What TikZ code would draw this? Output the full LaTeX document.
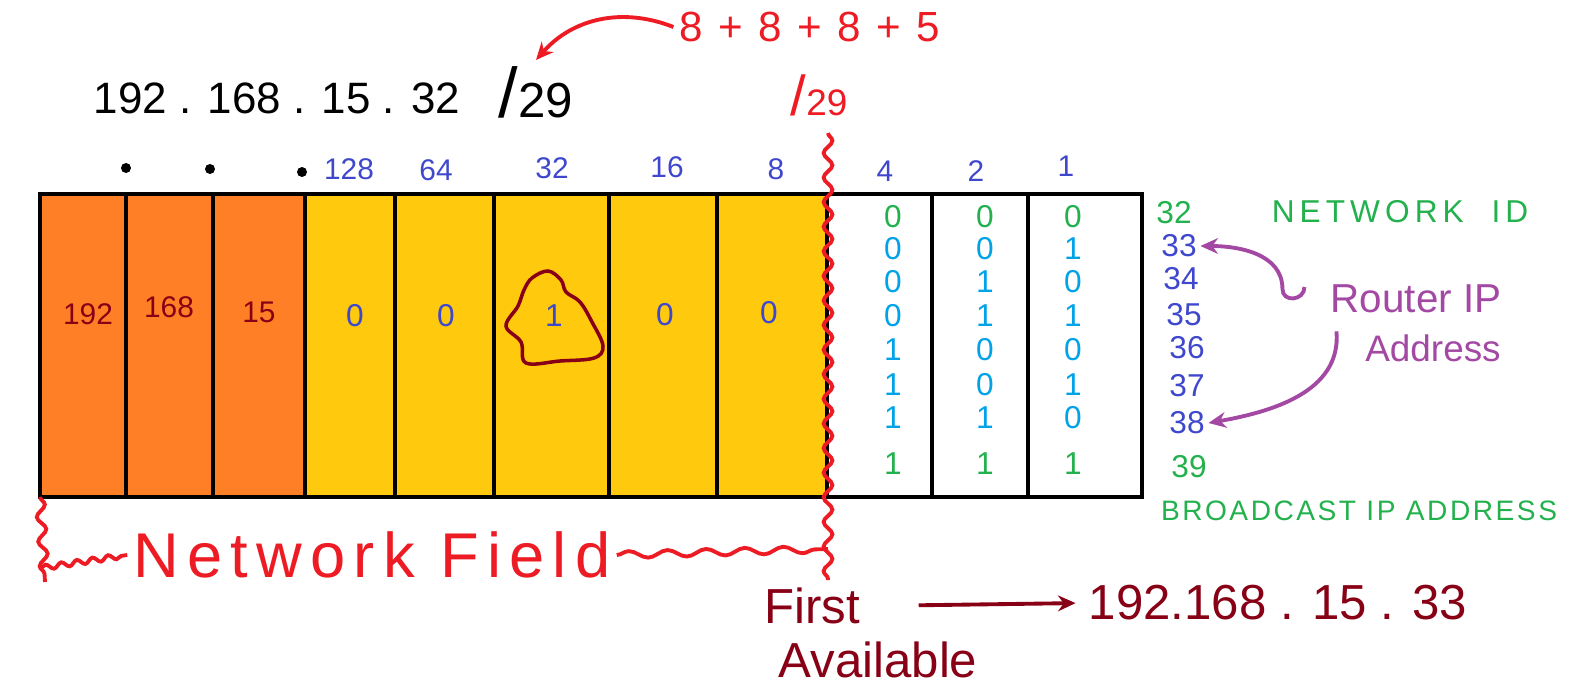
\documentclass[tikz,border=0pt]{standalone}
\usepackage{fontspec}
\setmainfont{Liberation Sans}
\usepackage{xcolor}
\usepackage{tikz}
\usetikzlibrary{arrows.meta,positioning,fit,decorations.pathmorphing}

\definecolor{mspOrange}{HTML}{FF7F27}
\definecolor{mspYellow}{HTML}{FFC90E}
\definecolor{mspRed}{HTML}{ED1C24}
\definecolor{mspMaroon}{HTML}{880015}
\definecolor{mspBlue}{HTML}{3F48CC}
\definecolor{mspCyan}{HTML}{00A2E8}
\definecolor{mspGreen}{HTML}{22B14C}
\definecolor{mspPurple}{HTML}{A349A4}

\newcommand{\fsz}[1]{\fontsize{#1}{#1}\selectfont}
\newcommand{\spaced}[2]{{\addfontfeature{LetterSpace=#1}#2}}

\begin{document}
\begin{tikzpicture}[
    x=0.02cm, y=0.02cm,
    cell/.style={rectangle, draw=black, line width=2.8pt, inner sep=0pt},
    octet/.style={cell, fill=mspOrange},
    netbit/.style={cell, fill=mspYellow},
    hostbit/.style={cell, fill=white},
    weight/.style={text=mspBlue, font=\fsz{17}},
    octval/.style={text=mspMaroon, font=\fsz{17}},
    bitval/.style={text=mspBlue, font=\fsz{18}},
    hbit/.style={text=mspCyan, font=\fsz{18}, inner sep=1pt},
    hbitg/.style={text=mspGreen, font=\fsz{18}, inner sep=1pt},
    hostnum/.style={text=mspBlue, font=\fsz{18}, inner sep=2pt},
    hostnumg/.style={text=mspGreen, font=\fsz{18}, inner sep=2pt},
    redarrow/.style={-{Stealth[length=10pt,width=9pt]}, line width=2.2pt, draw=mspRed},
    purparrow/.style={-{Stealth[length=10pt,width=9pt]}, line width=2.2pt, draw=mspPurple},
    mararrow/.style={-{Stealth[length=10pt,width=9pt]}, line width=2.2pt, draw=mspMaroon},
    wavy/.style={decorate, decoration={snake, amplitude=2.5pt, segment length=14pt}, line width=2.2pt, draw=mspRed}
]
\useasboundingbox (0,0) rectangle (1581,-693);

% 1. Address and prefix
\node[font=\fsz{25}] (ip_addr) at (277,-98) {192 . 168 . 15 . 32};
\node[font=\fsz{28}] (prefix) at (536,-92) {{\fsz{40}/}29};
\node[text=mspRed, font=\fsz{24}] (bit_sum) at (810,-27) {\spaced{9}{8 + 8 + 8 + 5}};
\node[text=mspRed, font=\fsz{21}] (red_prefix) at (819,-95) {{\fsz{32}/}29};

% 2. Octet dots and bit weights
\fill (126,-168) circle (5);
\fill (210,-169) circle (5);
\fill (302,-172) circle (5);
\node[weight] (w128) at (349,-169) {128};
\node[weight] (w64) at (436,-170) {64};
\node[weight] (w32) at (552,-168) {32};
\node[weight] (w16) at (667,-167) {16};
\node[weight] (w8) at (776,-169) {8};
\node[weight] (w4) at (885,-171) {4};
\node[weight] (w2) at (976,-171) {2};
\node[weight] (w1) at (1066,-166) {1};

% 3. Cells
\node[octet, fit={(40,-194) (126,-497)}] (oct_a) {};
\node[octet, fit={(126,-194) (213,-497)}] (oct_b) {};
\node[octet, fit={(213,-194) (305,-497)}] (oct_c) {};
\node[netbit, fit={(305,-194) (395,-497)}] (nb_128) {};
\node[netbit, fit={(395,-194) (494,-497)}] (nb_64) {};
\node[netbit, fit={(494,-194) (609,-497)}] (nb_32) {};
\node[netbit, fit={(609,-194) (717,-497)}] (nb_16) {};
\node[netbit, fit={(717,-194) (827,-497)}] (nb_8) {};
\node[hostbit, fit={(827,-194) (932,-497)}] (hb_4) {};
\node[hostbit, fit={(932,-194) (1028,-497)}] (hb_2) {};
\node[hostbit, fit={(1028,-194) (1142,-497)}] (hb_1) {};

\node[octval] (val_192) at (88,-314) {192};
\node[octval] (val_168) at (169,-307) {168};
\node[octval] (val_15) at (259,-312) {15};
\node[bitval] (bit_128) at (355,-316) {0};
\node[bitval] (bit_64) at (446,-316) {0};
\draw[mspMaroon, line width=2pt] plot[smooth cycle, tension=0.6] coordinates {
    (524,-290) (532,-278) (548,-271) (561,-280) (566,-292) (580,-302)
    (592,-322) (603,-346) (594,-358) (560,-361) (526,-363) (521,-342)
    (506,-326) (518,-306)};
\node[bitval] (bit_32) at (554,-316) {1};
\node[bitval] (bit_16) at (665,-315) {0};
\node[bitval] (bit_8) at (769,-313) {0};

% 4. Host bits
\node[hbitg] (hb1_4) at (893,-217) {0}; \node[hbitg] (hb1_2) at (985,-217) {0}; \node[hbitg] (hb1_1) at (1073,-217) {0};
\node[hbit] (hb2_4) at (893,-249) {0}; \node[hbit] (hb2_2) at (985,-249) {0}; \node[hbit] (hb2_1) at (1073,-249) {1};
\node[hbit] (hb3_4) at (893,-282) {0}; \node[hbit] (hb3_2) at (985,-282) {1}; \node[hbit] (hb3_1) at (1073,-282) {0};
\node[hbit] (hb4_4) at (893,-316) {0}; \node[hbit] (hb4_2) at (985,-316) {1}; \node[hbit] (hb4_1) at (1073,-316) {1};
\node[hbit] (hb5_4) at (893,-350) {1}; \node[hbit] (hb5_2) at (985,-350) {0}; \node[hbit] (hb5_1) at (1073,-350) {0};
\node[hbit] (hb6_4) at (893,-385) {1}; \node[hbit] (hb6_2) at (985,-385) {0}; \node[hbit] (hb6_1) at (1073,-385) {1};
\node[hbit] (hb7_4) at (893,-418) {1}; \node[hbit] (hb7_2) at (985,-418) {1}; \node[hbit] (hb7_1) at (1073,-418) {0};
\node[hbitg] (hb8_4) at (893,-464) {1}; \node[hbitg] (hb8_2) at (985,-464) {1}; \node[hbitg] (hb8_1) at (1073,-464) {1};

% 5. Host numbers and notes
\node[hostnumg] (num_32) at (1174,-213) {32};
\node[hostnum] (num_33) at (1179,-246) {33};
\node[hostnum] (num_34) at (1181,-279) {34};
\node[hostnum] (num_35) at (1184,-315) {35};
\node[hostnum] (num_36) at (1187,-348) {36};
\node[hostnum] (num_37) at (1187,-386) {37};
\node[hostnum] (num_38) at (1187,-423) {38};
\node[hostnumg] (num_39) at (1189,-467) {39};

\node[text=mspGreen, font=\fsz{18}] (net_id) at (1400,-212) {\spaced{16}{NETWORK\ \ ID}};
\node[text=mspPurple, font=\fsz{23}] (router) at (1416,-299) {Router IP};
\node[text=mspPurple, font=\fsz{21}] (router_addr) at (1433,-348) {Address};
\node[text=mspGreen, font=\fsz{16}] (broadcast) at (1359,-511) {\spaced{9}{BROADCAST IP ADDRESS}};

% 6. Network field
\node[text=mspRed, font=\fsz{36}] (net_field) at (372,-555) {\spaced{13}{Network Field}};
\coordinate (cut_top) at (828,-133);
\coordinate (cut_bot) at (828,-580);
\coordinate (brace_top) at (40,-497);
\coordinate (brace_bot) at (45,-582);
\coordinate (brace_l) at (41,-568);
\coordinate (brace_r) at (828,-549);

% 7. First available
\node[text=mspMaroon, font=\fsz{28}] (first_word) at (812,-606) {First};
\node[text=mspMaroon, font=\fsz{28}] (avail_word) at (878,-660) {Available};
\node[text=mspMaroon, font=\fsz{28}] (first_ip) at (1278,-603) {192.168 . 15 . 33};

% Arrows
\draw[redarrow] (bit_sum.west) to[bend right=35] (prefix.north);
\draw[wavy] (cut_top) -- (cut_bot);
\draw[wavy] (brace_top) -- (brace_bot);
\draw[wavy, decoration={amplitude=1.5pt, segment length=9pt}] (brace_l) -- (net_field.west);
\draw[wavy, decoration={amplitude=2pt, segment length=22pt}] (net_field.east) -- (brace_r);
\draw[purparrow] (router.west) ++(-20,12) to[out=-90,in=-90,looseness=1.6] ++(-22,-2) to[out=90,in=0] (num_33.east);
\draw[purparrow] (router.south west) ++(12,-12) to[out=-85,in=10] (num_38.east);
\draw[mararrow, shorten <=30pt, shorten >=4pt] (first_word.east) -- (first_ip.west);

\end{tikzpicture}
\end{document}
